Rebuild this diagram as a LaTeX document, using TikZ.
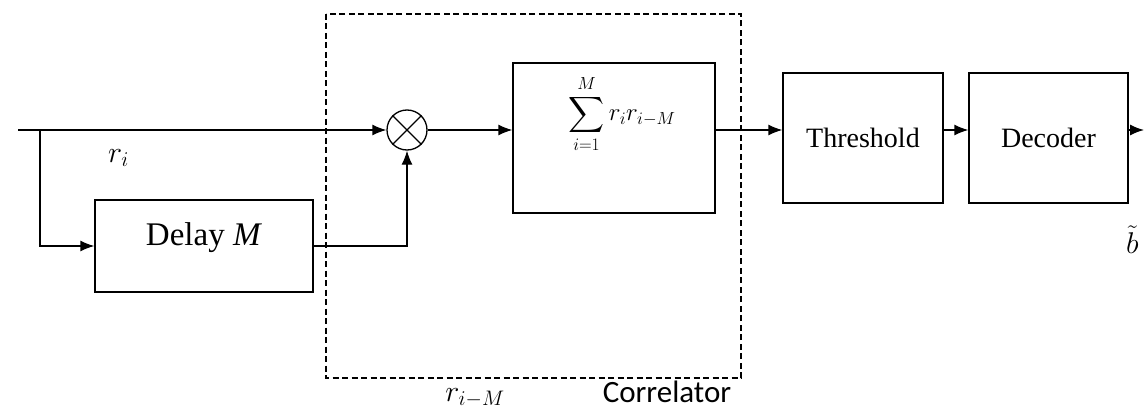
\RequirePackage{fix-cm}
\documentclass[tikz,border=0pt]{standalone}
\usepackage{amsmath}
\DeclareFontFamily{OMX}{cmex}{}
\DeclareFontShape{OMX}{cmex}{m}{n}{<-> cmex10}{}
\usepackage{fontspec}
\setmainfont{Liberation Serif}
\newfontfamily\corrfont{Carlito}
\usetikzlibrary{arrows.meta}
\begin{document}
\begin{tikzpicture}[x=1pt,y=-1pt,
  blk/.style={draw, line width=1.3pt, inner sep=0pt, fill=white},
  arr/.style={line width=1.3pt, -{Latex[length=14pt,width=11pt]}},
  ln/.style={line width=1.3pt},
  corr/.style={draw, line width=1.3pt, dash pattern=on 6pt off 3.5pt}]
\useasboundingbox (0,0) rectangle (1144,412);
% correlator frame
\draw[corr] (326,14) rectangle (741,378);
% blocks
\node[blk, minimum width=218pt, minimum height=92pt] (delay) at (204,246) {};
\node (delaytxt) at (204,238) {\fontsize{33}{38}\selectfont Delay \textit{M}};
\node[blk, minimum width=202pt, minimum height=150pt] (sum) at (614,138) {};
\node (sumtxt) at (622,114) {\fontsize{25}{30}\selectfont $\displaystyle\sum_{i=1}^{M} r_i r_{i-M}$};
\node[blk, minimum width=160pt, minimum height=130pt, font=\fontsize{28}{32}\selectfont] (thr) at (863,138) {Threshold};
\node[blk, minimum width=159pt, minimum height=130pt, font=\fontsize{28}{32}\selectfont] (dec) at (1048.5,138) {Decoder};
\node[draw, circle, line width=1.3pt, minimum size=40pt, inner sep=0pt] (mul) at (407,130) {};
\draw[ln] (mul.north west) -- (mul.south east) (mul.north east) -- (mul.south west);
% labels
\node[anchor=base west, inner sep=0pt] (ri) at (108,162) {\fontsize{30}{34}\selectfont $r_i$};
\node[anchor=base, inner sep=0pt] (rim) at (475,401) {\fontsize{30}{34}\selectfont $r_{i-M}$};
\node[anchor=base, inner sep=0pt] (corrlab) at (667,402) {\fontsize{31}{36}\selectfont\corrfont Correlator};
\node[anchor=base west, inner sep=0pt] (bt) at (1126,253) {\fontsize{30}{34}\selectfont $\tilde b$};
% connectors
\coordinate (in) at (18,130);
\coordinate (br) at (40,130);
\coordinate (out) at (1144,130);
\draw[arr] (in) -- (mul.west);
\draw[arr] (br) |- (delay.west);
\draw[arr] (delay.east) -| (mul.south);
\draw[arr] (mul.east) -- (mul.east -| sum.west);
\draw[arr] (sum.east |- mul) -- (thr.west |- mul);
\draw[arr] (thr.east |- mul) -- (dec.west |- mul);
\draw[arr] (dec.east |- mul) -- (out);
\end{tikzpicture}
\end{document}
